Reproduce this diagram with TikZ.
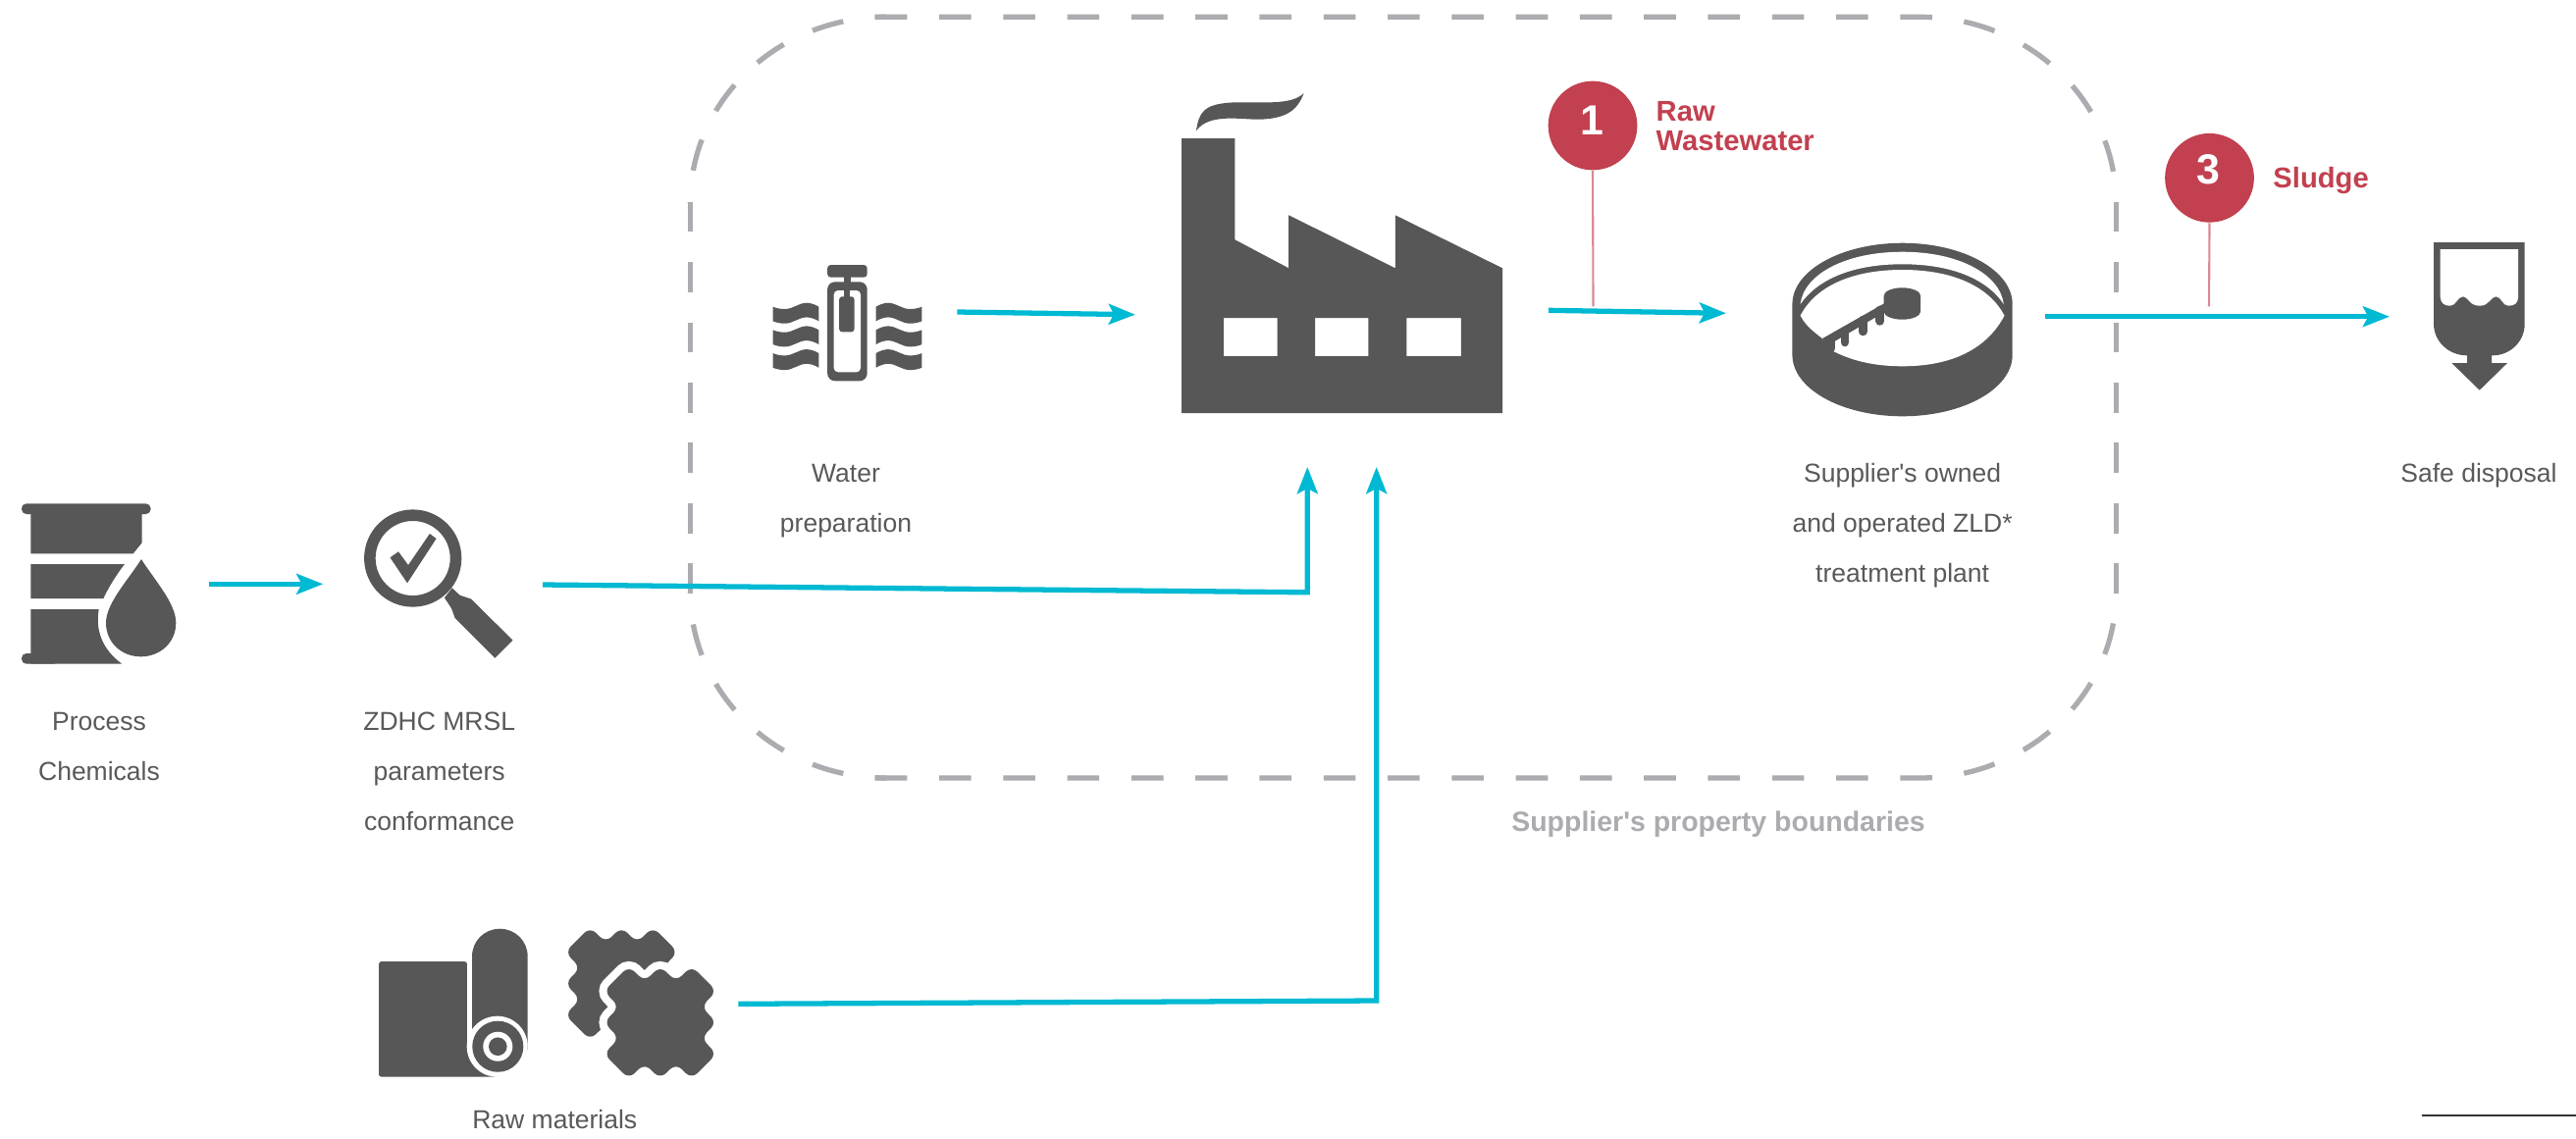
\documentclass[tikz,border=0pt]{standalone}
\usepackage{fontspec}
\newfontfamily\lbf{Liberation Sans}
\usetikzlibrary{arrows.meta}
\definecolor{ink}{HTML}{575757}
\definecolor{txt}{HTML}{58595B}
\definecolor{flowc}{HTML}{00B9D2}
\definecolor{redc}{HTML}{C2404F}
\definecolor{pinc}{HTML}{D98A93}
\definecolor{bound}{HTML}{ABACB0}
\tikzset{
  flow/.style={draw=flowc,line width=1.5pt,line cap=butt,miter limit=10,-{Stealth[length=7.7pt,width=5.9pt,inset=1.5pt,fill=flowc]}},
  pinline/.style={draw=pinc,line width=0.6pt},
  lbl/.style={font=\lbf\fontsize{7.54pt}{14.5pt}\selectfont,text=txt,align=center,inner sep=0pt,anchor=base},
  redlbl/.style={font=\lbf\bfseries\fontsize{8.3pt}{8.55pt}\selectfont,text=redc,align=left,inner sep=0pt,anchor=base west},
  num/.style={font=\lbf\bfseries\fontsize{12.2pt}{14pt}\selectfont,text=white,inner sep=0pt,anchor=base},
  badge/.style={circle,fill=redc,minimum size=25.8pt,inner sep=0pt},
  horizd/.style={draw=bound,line width=1.5pt,dash pattern=on 9.283pt off 9.283pt},
  vertd/.style={draw=bound,line width=1.5pt,dash pattern=on 8.734pt off 8.734pt},
}
\newcommand{\fabricpath}{(-32,-57.5)--(-16,-41.8)--(0,-57.5)--(16,-41.8)--(32,-57.5)--(57.5,-32)--(41.8,-16)--(57.5,0)--(41.8,16)--(57.5,32)--(32,57.5)--(16,41.8)--(0,57.5)--(-16,41.8)--(-32,57.5)--(-57.5,32)--(-41.8,16)--(-57.5,0)--(-41.8,-16)--(-57.5,-32)--cycle}
\begin{document}
\begin{tikzpicture}[x=0.01cm,y=-0.01cm]
\useasboundingbox[fill=white] (0,0) rectangle (2625,1160);

% boundary
\draw[horizd] (891.7,17.3) -- (1956.3,17.3) .. controls (2066.8,17.3) and (2156.3,102.1) .. (2156.3,207);
\draw[horizd] (891.7,793) -- (1956.3,793) .. controls (2066.8,793) and (2156.3,708.1) .. (2156.3,603);
\draw[horizd,dash phase=5.97pt] (903.3,17.3) .. controls (792.8,17.3) and (703.3,102.1) .. (703.3,207);
\draw[horizd,dash phase=5.97pt] (903.3,793) .. controls (792.8,793) and (703.3,708.1) .. (703.3,603);
\draw[vertd] (2156.3,205.7) -- (2156.3,606);
\draw[vertd] (703.3,205.7) -- (703.3,606);

% barrel
\fill[ink,rounded corners=1.4pt] (22,513.3) rectangle (153.6,524);
\fill[ink] (31.4,522) -- (144.6,522) -- (144.6,553.3) -- (135.7,564.3) -- (31.4,564.3) -- cycle;
\fill[ink] (31.4,575) -- (127,575) .. controls (117,588) and (110,600) .. (105.4,610) -- (31.4,610) -- cycle;
\fill[ink] (31.4,621) -- (100.7,621) .. controls (97,642) and (104,662) .. (124.3,676.7) -- (31.4,676.7) -- cycle;
\fill[ink,rounded corners=1.4pt] (22,666) rectangle (60,676.7);
\fill[ink] (144,570) .. controls (130,592) and (108,615) .. (108,635) .. controls (108,655) and (124,669.3) .. (143.6,669.3) .. controls (163,669.3) and (179.3,655) .. (179.3,635) .. controls (179.3,615) and (158,592) .. (144,570) -- cycle;

% magnifier
\fill[ink,even odd rule] (420.7,569) circle[radius=0.496cm] (420.7,569) circle[radius=0.38cm];
\fill[ink] (397.5,568.3) -- (406,562.3) -- (416,576) -- (437.9,544) -- (444.6,549) -- (415,594.3) -- cycle;
\fill[ink] (460.7,599.3) -- (452.9,609.3) -- (460,620) -- (463.6,630) -- (504.3,670.7) -- (522.5,652.7) -- (480.4,610.7) -- (468.6,606.7) -- cycle;

% water preparation
\fill[ink,rounded corners=1pt] (843.1,270) rectangle (883.7,282.7);
\fill[ink] (859.6,280) rectangle (867,290);
\fill[ink,rounded corners=2.2pt] (843.1,287.3) rectangle (883.7,388.3);
\fill[white,rounded corners=1.2pt] (849.7,296) rectangle (877,379.3);
\fill[ink] (860,294) rectangle (866,304);
\fill[ink,rounded corners=0.8pt] (855.2,302.3) rectangle (870.5,338.3);
\foreach \d in {0,23.7,47.4}{
  \fill[ink] (787.7,312.7+\d) .. controls (792,314.5+\d) and (796,315+\d) .. (800,315+\d) .. controls (808,315+\d) and (814,308.7+\d) .. (822,308.7+\d) .. controls (826,308.7+\d) and (831,310.5+\d) .. (834.4,312.7+\d) -- (834.4,327.4+\d) .. controls (831,325.2+\d) and (826,323.4+\d) .. (822,323.4+\d) .. controls (814,323.4+\d) and (808,329.7+\d) .. (800,329.7+\d) .. controls (796,329.7+\d) and (792,329.2+\d) .. (787.7,327.4+\d) -- cycle;
  \fill[ink] (939.3,312.7+\d) .. controls (935,314.5+\d) and (931,315+\d) .. (927,315+\d) .. controls (919,315+\d) and (913,308.7+\d) .. (905,308.7+\d) .. controls (901,308.7+\d) and (896,310.5+\d) .. (892.6,312.7+\d) -- (892.6,327.4+\d) .. controls (896,325.2+\d) and (901,323.4+\d) .. (905,323.4+\d) .. controls (913,323.4+\d) and (919,329.7+\d) .. (927,329.7+\d) .. controls (931,329.7+\d) and (935,329.2+\d) .. (939.3,327.4+\d) -- cycle;
}

% factory
\fill[ink,even odd rule] (1204,141) -- (1258.4,141) -- (1258.4,244.3) -- (1313.2,273.3) -- (1313.2,219.3) -- (1421.8,273.3) -- (1421.8,219.3) -- (1531,273.3) -- (1531,421) -- (1204,421) -- cycle
  (1246.9,324) rectangle (1301.7,363) (1340,324) rectangle (1394.4,363) (1433.4,324) rectangle (1488.8,363);
\fill[ink] (1218.9,133.3) .. controls (1222,115) and (1225,105) .. (1261,104.3) .. controls (1290,104) and (1316,107) .. (1328.6,95) .. controls (1322,113) and (1310,121) .. (1283,121.7) .. controls (1265,122) and (1232,115) .. (1218.9,133.3) -- cycle;

% treatment plant
\fill[ink] (1826.4,310) .. controls (1826.4,275.6) and (1876.7,247.7) .. (1938.6,247.7) .. controls (2000.5,247.7) and (2050.7,275.6) .. (2050.7,310) -- (2050.7,361.7) .. controls (2050.7,396.3) and (2000.5,424.3) .. (1938.6,424.3) .. controls (1876.7,424.3) and (1826.4,396.3) .. (1826.4,361.7) -- cycle;
\fill[white] (1834.6,310) .. controls (1838,280) and (1880,256.7) .. (1938.6,256.7) .. controls (1997,256.7) and (2038,280) .. (2041.8,310) .. controls (2025,285) and (1990,269.3) .. (1938.6,269.3) .. controls (1887,269.3) and (1852,285) .. (1834.6,310) -- cycle;
\fill[white] (1834.6,321.7) .. controls (1850,292) and (1887,275) .. (1938.6,275) .. controls (1990,275) and (2027,292) .. (2042.5,321.7) .. controls (2025,355) and (1990,373.3) .. (1938.6,373.3) .. controls (1908,373.3) and (1885,367) .. (1865.7,356.7) -- (1857,345) .. controls (1848,338) and (1840,332) .. (1834.6,321.7) -- cycle;
\fill[ink] (1919.6,301.6) .. controls (1919.6,297) and (1928,293.3) .. (1938.4,293.3) .. controls (1948.8,293.3) and (1957.1,297) .. (1957.1,301.6) -- (1957.1,317.4) .. controls (1957.1,322) and (1948.8,325.7) .. (1938.4,325.7) .. controls (1928,325.7) and (1919.6,322) .. (1919.6,317.4) -- cycle;
\fill[ink] (1920,309.3) -- (1857.1,345) -- (1861.4,352.7) -- (1920,318.3) -- cycle;
\draw[ink,line width=2.45pt,line cap=round] (1915.7,316) -- (1915.7,327.4);
\draw[ink,line width=2.45pt,line cap=round] (1898.2,326) -- (1898.2,338);
\draw[ink,line width=2.45pt,line cap=round] (1880,337) -- (1880,349);
\draw[ink,line width=2.45pt,line cap=round] (1866,346) -- (1866,355);

% disposal
\fill[ink] (2480,247) -- (2572.7,247) -- (2572.7,330) .. controls (2572.7,348) and (2558,362.3) .. (2540,362.3) -- (2514,362.3) .. controls (2495,362.3) and (2480,348) .. (2480,330) -- cycle;
\fill[white] (2486.7,254) -- (2486.7,303) .. controls (2487,309) and (2491,311.7) .. (2496.7,311.7) .. controls (2503,311.7) and (2504,302.3) .. (2510,302.3) .. controls (2515,302.3) and (2516,311.7) .. (2526.7,311.7) .. controls (2537,311.7) and (2538,302.3) .. (2543.3,302.3) .. controls (2549,302.3) and (2550,311.7) .. (2556,311.7) .. controls (2562,311.7) and (2566,309) .. (2566,303) -- (2566,254) -- cycle;
\fill[ink] (2514,360) -- (2539,360) -- (2539,370) -- (2555,370) -- (2526.7,397.7) -- (2498.3,370) -- (2514,370) -- cycle;

% raw materials: roll
\fill[ink,rounded corners=0.8pt] (386,980) -- (476,980) -- (476,1060) -- (506,1060) -- (506,1097.7) -- (386,1097.7) -- cycle;
\fill[white] (476,975) rectangle (481,1066);
\fill[ink] (481,975) .. controls (481,959) and (493.7,946.7) .. (509.3,946.7) .. controls (525,946.7) and (537.7,959) .. (537.7,975) -- (537.7,1070) -- (481,1070) -- cycle;
\fill[white] (506.7,1066.7) circle[radius=0.31cm];
\fill[ink] (507.3,1066.7) circle[radius=0.26cm];
\fill[white] (507.3,1066.7) circle[radius=0.15cm];
\fill[ink] (507.3,1066.7) circle[radius=0.093cm];
% raw materials: fabric
\begin{scope}[shift={(633.3,1002.5)}]
  \fill[ink,rounded corners=2.3pt] \fabricpath;
\end{scope}
\begin{scope}[shift={(672.8,1042.2)}]
  \filldraw[white,line width=4.6pt,rounded corners=2.3pt] \fabricpath;
  \fill[ink,rounded corners=2.3pt] \fabricpath;
\end{scope}

% connector ends
\coordinate (chemOut) at (212.9,595.3);
\coordinate (magIn) at (329.3,595.3);
\coordinate (magOut) at (553,596);
\coordinate (elbowA) at (1332.3,603.8);
\coordinate (factInA) at (1332.3,476);
\coordinate (rawOut) at (752.3,1023.3);
\coordinate (elbowB) at (1402.7,1020);
\coordinate (factInB) at (1402.7,476);
\coordinate (waterOut) at (975.3,318);
\coordinate (factIn) at (1156.9,320.7);
\coordinate (factOut) at (1577.9,316.3);
\coordinate (plantIn) at (1758.9,319.3);
\coordinate (plantOut) at (2083.6,322.7);
\coordinate (dispIn) at (2435,322.7);
\coordinate (pinA) at (1623.5,312.3);
\coordinate (pinB) at (2251,312.3);

\draw[flow] (chemOut) -- (magIn);
\draw[flow] (magOut) -- (elbowA) -- (factInA);
\draw[flow] (rawOut) -- (elbowB) -- (factInB);
\draw[flow] (waterOut) -- (factIn);
\draw[flow] (factOut) -- (plantIn);
\draw[flow] (plantOut) -- (dispIn);

% badges
\node[badge] (badgeA) at (1623,128) {};
\node[badge] (badgeB) at (2251.5,181.3) {};
\draw[pinline] (badgeA.south) -- (pinA);
\draw[pinline] (badgeB.south) -- (pinB);
\node[num] (numA) at (1622,137.3) {1};
\node[num] (numB) at (2250,187.8) {3};
\node[redlbl] (lblA) at (1687,153.3) {Raw\\Wastewater};
\node[redlbl] (lblB) at (2315.7,191) {Sludge};

% labels
\node[lbl] (tChem) at (101,795.7) {Process\\Chemicals};
\node[lbl] (tMag) at (447.7,846.7) {ZDHC MRSL\\parameters\\conformance};
\node[lbl] (tWater) at (862,542.7) {Water\\preparation};
\node[lbl] (tPlant) at (1938.6,593.7) {Supplier's owned\\and operated ZLD*\\treatment plant};
\node[lbl] (tDisp) at (2526,491.7) {Safe disposal};
\node[lbl] (tRaw) at (565.3,1150.7) {Raw materials};
\node[font=\lbf\bfseries\fontsize{8.1pt}{10pt}\selectfont,text=bound,inner sep=0pt,anchor=base] (tBound) at (1751,847) {Supplier's property boundaries};

% rule
\coordinate (ruleA) at (2467.7,1136.7);
\coordinate (ruleB) at (2625,1136.7);
\draw[draw=black!80,line width=0.45pt] (ruleA) -- (ruleB);
\end{tikzpicture}
\end{document}
